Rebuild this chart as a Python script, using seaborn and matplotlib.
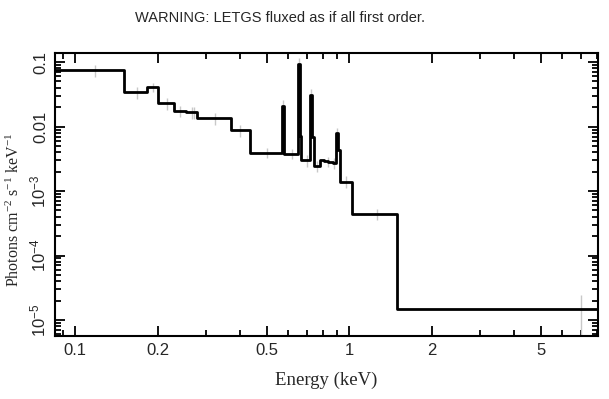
import numpy as np
import pandas as pd
import matplotlib
matplotlib.use("Agg")
import matplotlib.pyplot as plt
import matplotlib.ticker as mticker
import seaborn as sns

# bin edges (keV) and fluxed spectrum (photons cm^-2 s^-1 keV^-1)
edges = [0.080, 0.151, 0.183, 0.201, 0.229, 0.254, 0.279, 0.370, 0.433, 0.568, 0.579,
         0.650, 0.659, 0.668, 0.721, 0.733, 0.745, 0.784, 0.810, 0.840, 0.872, 0.894,
         0.910, 0.927, 1.028, 1.50, 8.5]
flux = [0.075, 0.034, 0.041, 0.023, 0.0176, 0.0166, 0.0134, 0.0088, 0.0039, 0.021,
        0.0038, 0.095, 0.0072, 0.0030, 0.031, 0.0068, 0.00245, 0.0030, 0.0029, 0.0028,
        0.0027, 0.0079, 0.0043, 0.0014, 0.00044, 1.47e-5]

# data points with errors (grey)
pt_energy = [0.118, 0.168, 0.193, 0.216, 0.242, 0.266, 0.272, 0.324, 0.40, 0.50,
             0.573, 0.618, 0.655, 0.701, 0.727, 0.764, 0.838, 0.882, 0.902, 0.975, 1.26, 7.0]
pt_flux = [0.075, 0.034, 0.041, 0.023, 0.0176, 0.0166, 0.0166, 0.0134, 0.0088, 0.0039,
           0.021, 0.0038, 0.095, 0.0030, 0.031, 0.00245, 0.0029, 0.0027, 0.0079, 0.0014,
           0.00044, 1.47e-5]
pt_err = [0.016, 0.007, 0.0065, 0.005, 0.0036, 0.0033, 0.0033, 0.0028, 0.0018, 0.0007,
          0.005, 0.0007, 0.02, 0.0006, 0.007, 0.0005, 0.0005, 0.0005, 0.0017, 0.0003,
          0.00009, 1.0e-5]

xticks = [0.1, 0.2, 0.5, 1, 2, 5]
xticklabels = ["0.1", "0.2", "0.5", "1", "2", "5"]
yticks = [1e-5, 1e-4, 1e-3, 0.01, 0.1]
yticklabels = [r"10$\mathregular{^{-5}}$", r"10$\mathregular{^{-4}}$", r"10$\mathregular{^{-3}}$", "0.01", "0.1"]

sns.set_theme(style="ticks")
plt.rcParams['font.family'] = ['Liberation Sans', 'DejaVu Sans']

df = pd.DataFrame({'Energy': edges, 'Flux': flux + [flux[-1]]})

fig = plt.figure(figsize=(6.09, 3.99), dpi=100)
ax = fig.add_axes([0.0903, 0.158, 0.892, 0.709])

ax.errorbar(pt_energy, pt_flux, yerr=pt_err, fmt='none', ecolor='#c8c8c8', elinewidth=1, zorder=1)
sns.lineplot(data=df, x='Energy', y='Flux', drawstyle='steps-post', estimator=None,
             color='black', linewidth=2, ax=ax, zorder=2)

ax.set_xscale('log')
ax.set_yscale('log')
ax.set_xlim(0.0845, 8.1)
ax.set_ylim(5.65e-6, 0.138)

ax.xaxis.set_major_locator(mticker.FixedLocator(xticks))
ax.xaxis.set_major_formatter(mticker.FixedFormatter(xticklabels))
ax.xaxis.set_minor_locator(mticker.LogLocator(base=10, subs=np.arange(1, 10) * 1.0, numticks=20))
ax.xaxis.set_minor_formatter(mticker.NullFormatter())
ax.yaxis.set_major_locator(mticker.FixedLocator(yticks))
ax.yaxis.set_major_formatter(mticker.FixedFormatter(yticklabels))
ax.yaxis.set_minor_locator(mticker.LogLocator(base=10, subs=np.arange(2, 10) * 1.0, numticks=20))
ax.yaxis.set_minor_formatter(mticker.NullFormatter())

ax.tick_params(which='both', direction='in', top=True, right=True, color='black', width=1.3)
ax.tick_params(which='major', length=7, labelsize=12, pad=5)
ax.tick_params(which='minor', length=4)
for lab in ax.get_yticklabels():
    lab.set_rotation(90)
    lab.set_va('center')
for sp in ax.spines.values():
    sp.set_linewidth(1.5)
    sp.set_color('black')

ax.set_xlabel('Energy (keV)', family='Liberation Serif', fontsize=13.5, labelpad=10)
ax.set_ylabel(r'Photons cm$\mathregular{^{-2}}$ s$\mathregular{^{-1}}$ keV$\mathregular{^{-1}}$',
              family='Liberation Serif', fontsize=11.5)
ax.yaxis.set_label_coords(-0.058, 0.445)
fig.text(0.46, 0.955, 'WARNING: LETGS fluxed as if all first order.', ha='center', va='center', fontsize=10.5)

fig.savefig('out.png', dpi=100)
